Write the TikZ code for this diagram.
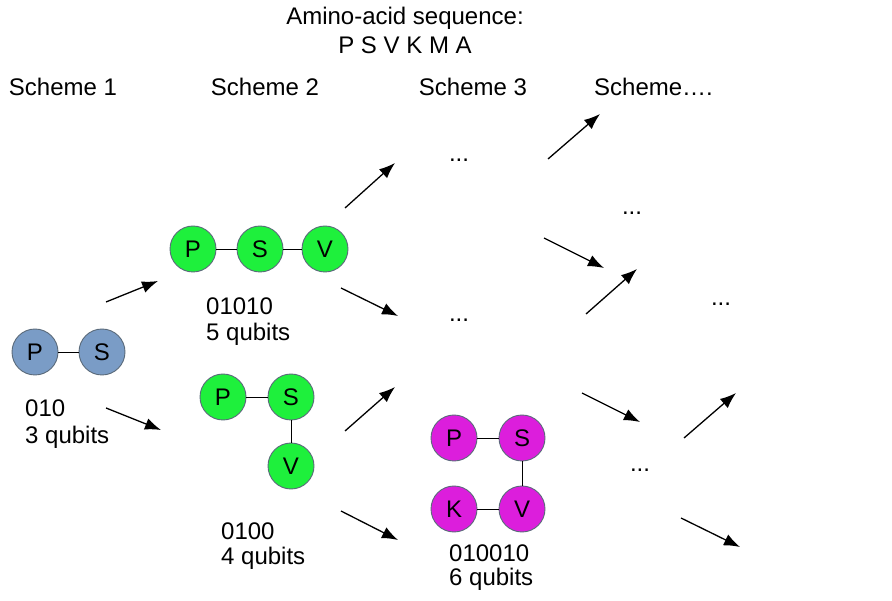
\documentclass[tikz,border=0pt]{standalone}
\usepackage{fontspec}
\setmainfont{Liberation Sans}
\usetikzlibrary{arrows.meta}
\definecolor{bluegray}{HTML}{7A9CC6}
\definecolor{lgreen}{HTML}{1EF03C}
\definecolor{magent}{HTML}{DC1EDC}
\definecolor{rimgray}{HTML}{5A6A7A}
\begin{document}
\begin{tikzpicture}[x=1pt,y=-1pt,
  every node/.style={font=\fontsize{24}{28}\selectfont, inner sep=0pt},
  res/.style={circle, draw=rimgray, line width=0.9pt, minimum size=46pt},
  rb/.style={res, fill=bluegray},
  rg/.style={res, fill=lgreen},
  rm/.style={res, fill=magent},
  bond/.style={draw=black, line width=0.9pt},
  lbl/.style={anchor=west, align=left},
  arr/.style={draw=black, line width=1.3pt, -{Latex[length=16pt,width=12pt]}}]
\useasboundingbox (0,0) rectangle (892,601);
% titles
\node (t1) at (405,18) {Amino-acid sequence:};
\node (t2) at (405,45) {P S V K M A};
\node (s1) at (63,87) {Scheme 1};
\node (s2) at (265,87) {Scheme 2};
\node (s3) at (473,87) {Scheme 3};
\node[anchor=west] (s4) at (594,87) {Scheme….};
% scheme 1
\node[rb] (p1) at (35,352) {P};
\node[rb] (q1) at (102,352) {S};
\path[bond] (p1) -- (q1);
\node[lbl] (c1) at (25,408) {010};
\node[lbl] (n1) at (25,437) {3 qubits};
% scheme 2 linear
\node[rg] (p2) at (193,249) {P};
\node[rg] (q2) at (260,249) {S};
\node[rg] (v2) at (325,249) {V};
\path[bond] (p2) -- (q2) (q2) -- (v2);
\node[lbl] (c2) at (206,306) {01010};
\node[lbl] (n2) at (206,334) {5 qubits};
% scheme 2 bent
\node[rg] (p3) at (223,397) {P};
\node[rg] (q3) at (291,397) {S};
\node[rg] (v3) at (291,466) {V};
\path[bond] (p3) -- (q3) (q3) -- (v3);
\node[lbl] (c3) at (221,531) {0100};
\node[lbl] (n3) at (221,558) {4 qubits};
% scheme 3 square
\node[rm] (p4) at (454,438) {P};
\node[rm] (q4) at (522,438) {S};
\node[rm] (k4) at (454,509) {K};
\node[rm] (v4) at (522,509) {V};
\path[bond] (p4) -- (q4) (q4) -- (v4) (v4) -- (k4);
\node[lbl] (c4) at (449,553) {010010};
\node[lbl] (n4) at (449,579) {6 qubits};
% ellipses
\node (d1) at (459,160) {...};
\node (d2) at (632,213) {...};
\node (d3) at (459,320) {...};
\node (d4) at (721,304) {...};
\node (d5) at (640,470) {...};
% arrows
\foreach \i/\ax/\ay/\bx/\by in {
  1/106/302/158/281, 2/106/408/161/430,
  3/345/208/395/163, 4/341/288/398/316,
  5/345/431/395/387, 6/341/511/398/540,
  7/548/159/600/114, 8/544/238/604/268,
  9/586/314/637/269, 10/582/393/640/422,
  11/684/438/736/393, 12/681/518/740/547}{
  \coordinate (as\i) at (\ax,\ay);
  \coordinate (ae\i) at (\bx,\by);
  \path[arr] (as\i) -- (ae\i);
}
\end{tikzpicture}
\end{document}
